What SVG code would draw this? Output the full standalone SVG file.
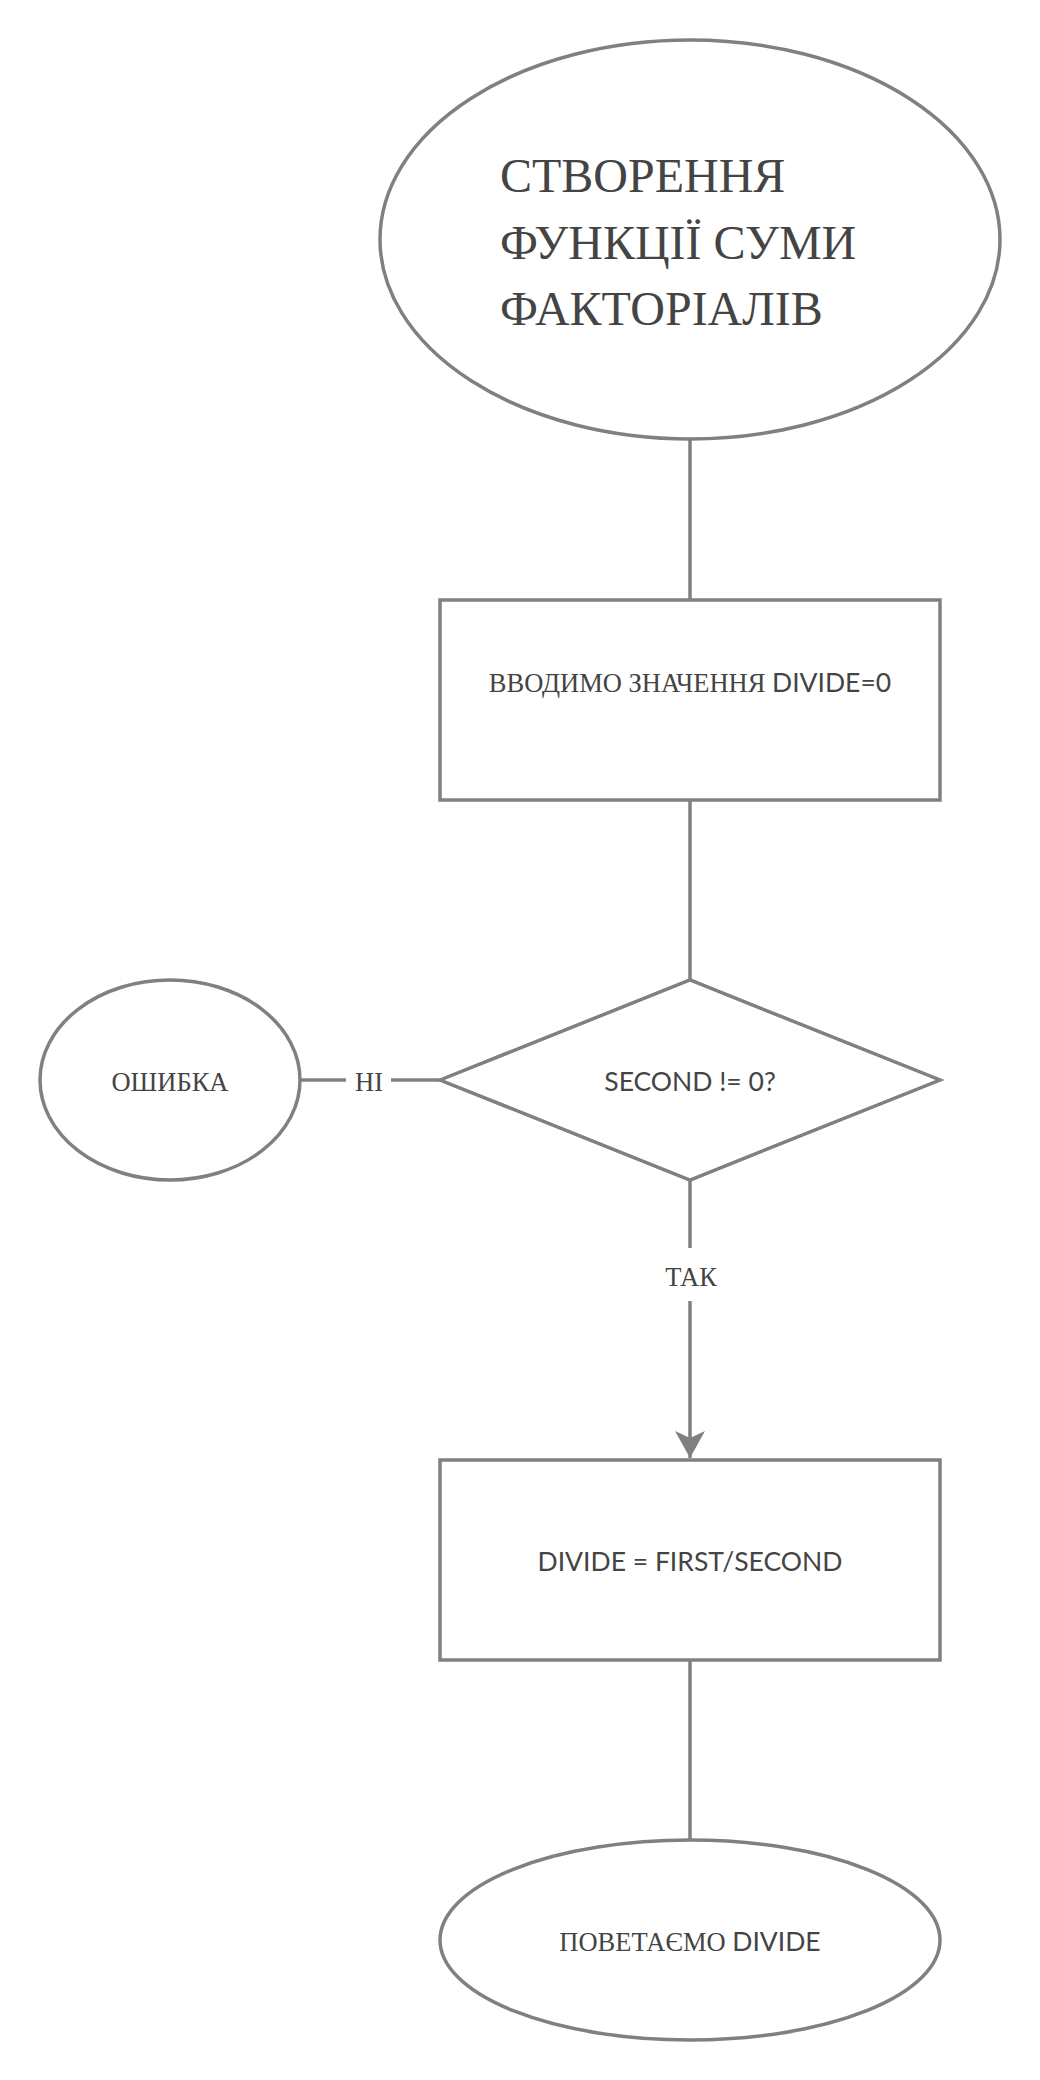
<svg xmlns="http://www.w3.org/2000/svg" width="1040" height="2080" viewBox="0 0 1040 2080">
<style>
.shape{fill:#ffffff;stroke:#808080;stroke-width:3.5}
.line{fill:none;stroke:#808080;stroke-width:3.5}
.serif{font-family:"Liberation Serif","Times New Roman",serif;fill:#444444}
.sans{font-family:Lato,"Liberation Sans",sans-serif;fill:#444444}
.lbl{font-size:26.5px;text-anchor:middle}
</style>
<defs>
<marker id="arrow" markerUnits="userSpaceOnUse" markerWidth="34" markerHeight="34" viewBox="0 0 34 34" refX="30" refY="17" orient="auto">
<path d="M30,17 L3,2 L10,17 L3,32 Z" fill="#808080"/>
</marker>
</defs>
<rect width="1040" height="2080" fill="#ffffff"/>
<g id="connectors">
<line class="line" x1="690" y1="439" x2="690" y2="600"/>
<line class="line" x1="690" y1="800" x2="690" y2="980"/>
<line class="line" x1="440" y1="1080" x2="391" y2="1080"/>
<line class="line" x1="346" y1="1080" x2="300" y2="1080"/>
<text class="serif lbl" x="369" y="1091">НІ</text>
<line class="line" x1="690" y1="1180" x2="690" y2="1248"/>
<line class="line" x1="690" y1="1301" x2="690" y2="1458" marker-end="url(#arrow)"/>
<text class="serif lbl" x="691" y="1286">ТАК</text>
<line class="line" x1="690" y1="1660" x2="690" y2="1840"/>
</g>
<g id="start">
<ellipse class="shape" cx="690" cy="239.5" rx="310" ry="199.5"/>
<text class="serif" font-size="48" x="500" y="192">СТВОРЕННЯ</text>
<text class="serif" font-size="48" x="500" y="258.5">ФУНКЦІЇ СУМИ</text>
<text class="serif" font-size="48" x="500" y="325">ФАКТОРІАЛІВ</text>
</g>
<g id="input">
<rect class="shape" x="440" y="600" width="500" height="200"/>
<text class="lbl" x="690" y="692"><tspan class="serif">ВВОДИМО ЗНАЧЕННЯ </tspan><tspan class="sans">DIVIDE=0</tspan></text>
</g>
<g id="decision">
<polygon class="shape" points="440,1080 690,980 940,1080 690,1180"/>
<text class="sans lbl" x="690" y="1091">SECOND != 0?</text>
</g>
<g id="error">
<ellipse class="shape" cx="170" cy="1080" rx="130" ry="100"/>
<text class="serif lbl" x="170" y="1091">ОШИБКА</text>
</g>
<g id="divide">
<rect class="shape" x="440" y="1460" width="500" height="200"/>
<text class="sans lbl" x="690" y="1571">DIVIDE = FIRST/SECOND</text>
</g>
<g id="end">
<ellipse class="shape" cx="690" cy="1940" rx="250" ry="100"/>
<text class="lbl" x="690" y="1951"><tspan class="serif">ПОВЕТАЄМО </tspan><tspan class="sans">DIVIDE</tspan></text>
</g>
</svg>
